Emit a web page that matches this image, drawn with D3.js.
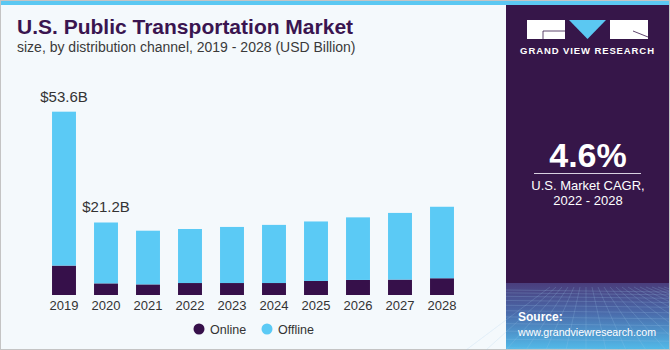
<!DOCTYPE html>
<html>
<head>
<meta charset="utf-8">
<script src="https://cdn.jsdelivr.net/npm/d3@7"></script>
<style>
  body { margin: 0; background: #fff; }
  svg text { font-family: "Liberation Sans", Arial, sans-serif; }
</style>
</head>
<body>
<div id="chart"></div>
<script>
// values (USD Billion)
const years = ["2019", "2020", "2021", "2022", "2023", "2024", "2025", "2026", "2027", "2028"];
const online = [8.6, 3.4, 3.1, 3.5, 3.5, 3.5, 4.1, 4.4, 4.5, 4.9];
const offline = [45.0, 17.8, 15.7, 15.8, 16.4, 17.0, 17.4, 18.3, 19.5, 20.9];
const valueLabels = { "2019": "$53.6B", "2020": "$21.2B" };
const seriesNames = ["Online", "Offline"];
const colors = ["#36104a", "#5bcaf5"];

const W = 670, H = 350;
const svg = d3.select("#chart").append("svg")
    .attr("width", W)
    .attr("height", H);

// background + frame
svg.append("rect").attr("width", W).attr("height", H).attr("fill", "#f4f9fc");
svg.append("rect").attr("x", 0).attr("y", 0).attr("width", W).attr("height", 5).attr("fill", "#5bc8f2");
svg.append("rect").attr("x", 0.5).attr("y", 0.5).attr("width", W - 1).attr("height", H - 1)
    .attr("fill", "none").attr("stroke", "#c4c4c4");

// title
svg.append("text").attr("x", 17).attr("y", 34)
    .attr("fill", "#3a1550").style("font-size", "21px").style("font-weight", "bold")
    .text("U.S. Public Transportation Market");
svg.append("text").attr("x", 17).attr("y", 52)
    .attr("fill", "#3a3a3a").style("font-size", "14px")
    .text("size, by distribution channel, 2019 - 2028 (USD Billion)");

// stacked data
const rows = years.map((y, i) => ({ year: y, Online: online[i], Offline: offline[i] }));
const stacked = d3.stack().keys(seriesNames)(rows);

const x = d3.scaleBand()
    .domain(years)
    .range([43, 463])
    .paddingInner(0.43)
    .paddingOuter(0.215);

const y = d3.scaleLinear()
    .domain([0, 60])
    .range([295, 295 - 60 * 3.42]);

svg.append("g")
    .selectAll("g")
    .data(stacked)
    .enter()
    .append("g")
    .attr("fill", (d, i) => colors[i])
    .selectAll("rect")
    .data(d => d)
    .enter()
    .append("rect")
    .attr("x", d => x(d.data.year))
    .attr("y", d => y(d[1]))
    .attr("width", x.bandwidth())
    .attr("height", d => y(d[0]) - y(d[1]));

// value labels above first two bars
svg.append("g")
    .selectAll("text")
    .data(years.filter(yr => valueLabels[yr]))
    .enter()
    .append("text")
    .attr("x", yr => x(yr) + x.bandwidth() / 2)
    .attr("y", yr => y(online[years.indexOf(yr)] + offline[years.indexOf(yr)]) - 10)
    .attr("text-anchor", "middle")
    .attr("fill", "#333")
    .style("font-size", "15px")
    .text(yr => valueLabels[yr]);

// x axis
const xAxis = svg.append("g")
    .attr("transform", "translate(0,295)")
    .call(d3.axisBottom(x).tickSize(0).tickPadding(6));
xAxis.select(".domain").remove();
xAxis.selectAll("text")
    .attr("fill", "#333")
    .style("font-size", "13px")
    .style("font-family", "'Liberation Sans', Arial, sans-serif");

// legend
const legend = svg.append("g").attr("transform", "translate(199,329)");
const legendX = [0, 68];
seriesNames.forEach((name, i) => {
    legend.append("circle").attr("cx", legendX[i]).attr("cy", 0).attr("r", 5.5).attr("fill", colors[i]);
    legend.append("text").attr("x", legendX[i] + 11).attr("y", 4.5)
        .attr("fill", "#333").style("font-size", "12.5px").text(name);
});

// right panel
const px = 506, pw = W - px - 1;
const defs = svg.append("defs");
const grad = defs.append("linearGradient").attr("id", "panelGrad")
    .attr("x1", 0).attr("y1", 0).attr("x2", 0).attr("y2", 1);
grad.append("stop").attr("offset", "0%").attr("stop-color", "#4a3d7c");
grad.append("stop").attr("offset", "45%").attr("stop-color", "#4a6aaa");
grad.append("stop").attr("offset", "100%").attr("stop-color", "#52b9e8");

svg.append("rect").attr("x", px).attr("y", 5).attr("width", pw).attr("height", H - 6).attr("fill", "#361649");
svg.append("rect").attr("x", px).attr("y", 283).attr("width", pw).attr("height", H - 284).attr("fill", "url(#panelGrad)");

// faint mesh in the bottom band
const mesh = svg.append("g").attr("stroke", "#9fc8ee").attr("stroke-opacity", 0.35).attr("stroke-width", 0.6).attr("fill", "none");
d3.range(0, 14).forEach(k => {
    const yy = 290 + k * k * 0.33 + k * 2.5;
    if (yy < H) mesh.append("line").attr("x1", px).attr("x2", W).attr("y1", yy).attr("y2", yy + 2);
});
d3.range(-6, 20).forEach(k => {
    const xTop = px + 80 + k * 6;
    const xBot = px + 80 + k * 20;
    mesh.append("line").attr("x1", xTop).attr("y1", 287).attr("x2", xBot).attr("y2", H);
});

// logo
const logo = svg.append("g");
logo.append("rect").attr("x", 527).attr("y", 20).attr("width", 38).attr("height", 19).attr("fill", "#fff");
logo.append("path").attr("d", "M569,20 L606,20 L587.5,39 Z").attr("fill", "#5bc8f2");
logo.append("rect").attr("x", 610).attr("y", 20).attr("width", 38).attr("height", 19).attr("fill", "#fff");
logo.append("path").attr("d", "M543,31 L565,31 M543,31 L543,39").attr("stroke", "#361649").attr("stroke-width", 0.8);
logo.append("path").attr("d", "M633,31 L648,37").attr("stroke", "#361649").attr("stroke-width", 0.8);
svg.append("text").attr("x", 587.5).attr("y", 54).attr("text-anchor", "middle")
    .attr("fill", "#fff").style("font-size", "9.5px").style("font-weight", "bold")
    .style("letter-spacing", "0.9px").text("GRAND VIEW RESEARCH");

// CAGR block
svg.append("text").attr("x", 588).attr("y", 167).attr("text-anchor", "middle")
    .attr("fill", "#fff").style("font-size", "34px").style("font-weight", "bold").text("4.6%");
svg.append("line").attr("x1", 534).attr("x2", 641).attr("y1", 173.5).attr("y2", 173.5)
    .attr("stroke", "#d8d0e0").attr("stroke-width", 1.2);
svg.append("text").attr("x", 588).attr("y", 190).attr("text-anchor", "middle")
    .attr("fill", "#fff").style("font-size", "13px").text("U.S. Market CAGR,");
svg.append("text").attr("x", 588).attr("y", 205).attr("text-anchor", "middle")
    .attr("fill", "#fff").style("font-size", "13px").text("2022 - 2028");

// source
svg.append("text").attr("x", 518).attr("y", 321)
    .attr("fill", "#fff").style("font-size", "12px").style("font-weight", "bold").text("Source:");
svg.append("text").attr("x", 518).attr("y", 336)
    .attr("fill", "#fff").style("font-size", "11px")
    .attr("textLength", 138).attr("lengthAdjust", "spacingAndGlyphs")
    .text("www.grandviewresearch.com");
</script>
</body>
</html>
